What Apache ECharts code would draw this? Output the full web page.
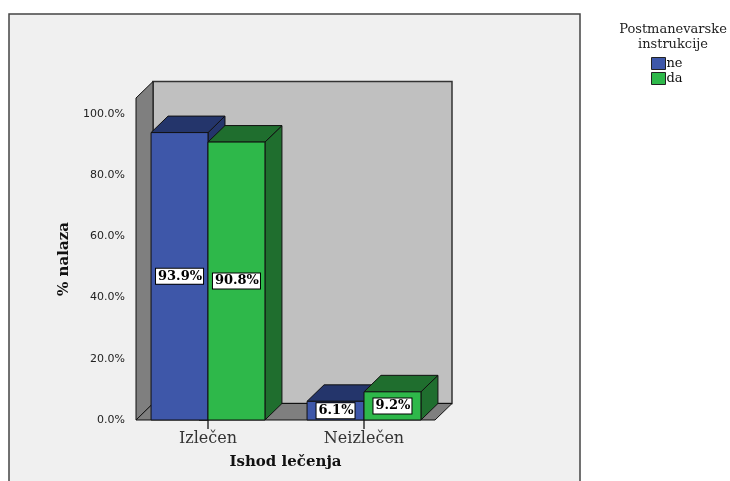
<!DOCTYPE html>
<html>
<head>
<meta charset="utf-8">
<script src="https://cdn.jsdelivr.net/npm/echarts@6/dist/echarts.min.js"></script>
<style>
  html, body { margin: 0; padding: 0; background: #ffffff; }
  #chart { width: 730px; height: 481px; }
</style>
</head>
<body>
<div id="chart"></div>
<script>
// Outcome of treatment, split by post-manoeuvre instructions
const categories = ['Izlečen', 'Neizlečen'];
const groupNames = ['ne', 'da'];
const neValues = [93.9, 6.1];
const daValues = [90.8, 9.2];
const yTickValues = [0, 20, 40, 60, 80, 100];

// 3D look: depth offset of the back plane, in pixels
const DX = 17, DY = -16.5;
// bar width in category units, and the axis extents
const BAR_W = 0.365;
const X_MIN = -0.4615, X_MAX = 1.4551;
const Y_MAX = 105.2;

const faceColors = {
  ne: { front: '#3E57A9', top: '#24356B', side: '#24356B' },
  da: { front: '#2EB84A', top: '#1F6E2E', side: '#1F6E2E' }
};

const serif = '"DejaVu Serif", serif';

function poly(points, fill) {
  return { type: 'polygon', shape: { points: points }, style: { fill: fill, stroke: '#111', lineWidth: 1 } };
}

// box with front face, top face and right side face
function barRenderer(name, side) {
  return function (params, api) {
    const idx = api.value(0);
    const v = api.value(1);
    const x0 = side < 0 ? idx - BAR_W : idx;
    const x1 = x0 + BAR_W;
    const bl = api.coord([x0, 0]);
    const tr = api.coord([x1, v]);
    const c = faceColors[name];
    const l = bl[0], r = tr[0], t = tr[1], b = bl[1];
    return {
      type: 'group',
      children: [
        poly([[r, b], [r + DX, b + DY], [r + DX, t + DY], [r, t]], c.side),
        poly([[l, t], [r, t], [r + DX, t + DY], [l + DX, t + DY]], c.top),
        { type: 'rect', shape: { x: l, y: t, width: r - l, height: b - t },
          style: { fill: c.front, stroke: '#111', lineWidth: 1 } },
        { type: 'text', x: (l + r) / 2, y: (t + b) / 2,
          style: { text: v.toFixed(1) + '%', align: 'center', verticalAlign: 'middle',
                   font: 'bold 13px ' + serif, fill: '#000',
                   backgroundColor: '#fff', borderColor: '#000', borderWidth: 1,
                   padding: [2, 1, 0, 2] } }
      ]
    };
  };
}

// back wall, left wall and floor of the 3D box
function wallRenderer(params, api) {
  const p0 = api.coord([X_MIN, 0]);
  const p1 = api.coord([X_MAX, Y_MAX]);
  const l = p0[0], b = p0[1], r = p1[0], t = p1[1];
  return {
    type: 'group',
    children: [
      { type: 'rect', shape: { x: l + DX, y: t + DY, width: r - l, height: b - t },
        style: { fill: '#C0C0C0', stroke: '#333', lineWidth: 1.5 } },
      poly([[l, b], [l, t], [l + DX, t + DY], [l + DX, b + DY]], '#7F7F7F'),
      poly([[l, b], [r, b], [r + DX, b + DY], [l + DX, b + DY]], '#7F7F7F')
    ]
  };
}

const chart = echarts.init(document.getElementById('chart'), null, { renderer: 'canvas' });

chart.setOption({
  backgroundColor: '#ffffff',
  animation: false,
  graphic: [
    { type: 'rect', z: -10, silent: true,
      shape: { x: 9, y: 14, width: 571, height: 480 },
      style: { fill: '#F0F0F0', stroke: '#444', lineWidth: 1.5 } }
  ],
  title: {
    text: 'Postmanevarske\ninstrukcije',
    left: 668, top: 17, textAlign: 'center',
    textStyle: { fontFamily: serif, fontWeight: 'normal', fontSize: 13, color: '#222', lineHeight: 15 }
  },
  legend: {
    orient: 'vertical', left: 646, top: 52,
    itemWidth: 14, itemHeight: 12, itemGap: 2,
    icon: 'rect',
    itemStyle: { borderColor: '#222', borderWidth: 1 },
    textStyle: { fontFamily: serif, fontSize: 13, color: '#111', padding: [0, 0, 0, -4] },
    data: groupNames
  },
  grid: { left: 136, right: 295, top: 98, bottom: 61 },
  xAxis: {
    type: 'value', min: X_MIN, max: X_MAX,
    name: 'Ishod lečenja', nameLocation: 'middle', nameGap: 35,
    nameTextStyle: { fontFamily: serif, fontWeight: 'bold', fontSize: 15, color: '#111' },
    axisLine: { show: false },
    splitLine: { show: false },
    axisTick: { show: true, length: 9, customValues: [0, 1], lineStyle: { color: '#333', width: 1.5 } },
    axisLabel: {
      customValues: [0, 1], margin: 11,
      formatter: function (v) { return categories[Math.round(v)]; },
      fontFamily: serif, fontSize: 16, color: '#333'
    }
  },
  yAxis: {
    type: 'value', min: 0, max: Y_MAX,
    name: '% nalaza', nameLocation: 'middle', nameGap: 64, nameRotate: 90,
    nameTextStyle: { fontFamily: serif, fontWeight: 'bold', fontSize: 15, color: '#111' },
    axisLine: { show: false },
    splitLine: { show: false },
    axisTick: { show: true, length: 9, customValues: yTickValues, lineStyle: { color: '#222', width: 1.5 } },
    axisLabel: {
      customValues: yTickValues, margin: 11,
      formatter: function (v) { return v.toFixed(1) + '%'; },
      fontFamily: '"DejaVu Sans", sans-serif', fontSize: 11, color: '#222'
    }
  },
  series: [
    { type: 'custom', name: 'walls', silent: true, z: 1,
      renderItem: wallRenderer, data: [[0, 0]] },
    { type: 'custom', name: groupNames[0], z: 2,
      itemStyle: { color: faceColors.ne.front },
      renderItem: barRenderer('ne', -1),
      data: neValues.map(function (v, i) { return [i, v]; }) },
    { type: 'custom', name: groupNames[1], z: 3,
      itemStyle: { color: faceColors.da.front },
      renderItem: barRenderer('da', 1),
      data: daValues.map(function (v, i) { return [i, v]; }) }
  ]
});
</script>
</body>
</html>
